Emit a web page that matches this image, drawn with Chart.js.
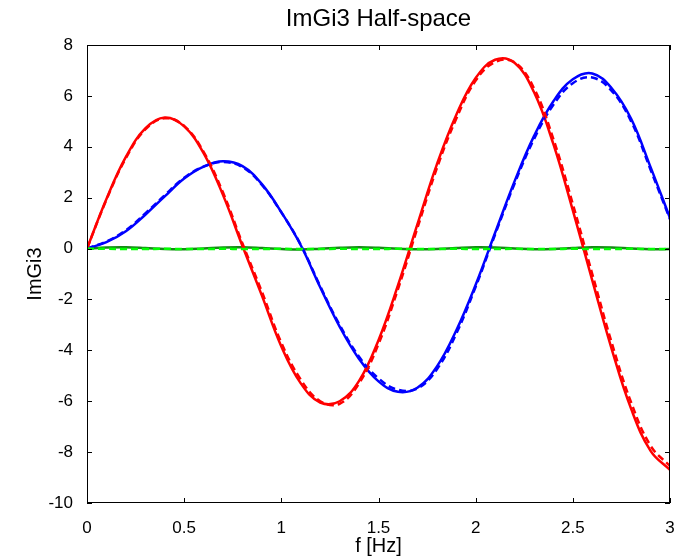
<!DOCTYPE html>
<html>
<head>
<meta charset="utf-8">
<title>ImGi3 Half-space</title>
<script src="https://cdn.jsdelivr.net/npm/chart.js@4.4.1/dist/chart.umd.min.js"></script>
<style>
  html, body { margin: 0; padding: 0; background: #fff; }
  #chart { display: block; }
</style>
</head>
<body>
<canvas id="chart" width="687" height="558"></canvas>
<script>
// === Données ===
const freqs = [0, 0.1, 0.2, 0.3, 0.4, 0.5, 0.6, 0.7, 0.8, 0.9, 1.0,
               1.1, 1.2, 1.3, 1.4, 1.5, 1.6, 1.7, 1.8, 1.9, 2.0,
               2.1, 2.2, 2.3, 2.4, 2.5, 2.6, 2.7, 2.8, 2.9, 3.0];

const redSolid = [0, 1.95, 3.6, 4.72, 5.15, 4.8, 3.75, 2.1, 0.1, -1.85, -3.85,
                  -5.3, -6.05, -6.0, -5.2, -3.6, -1.45, 0.95, 3.3, 5.25, 6.7,
                  7.42, 7.3, 6.15, 4.1, 1.5, -1.25, -3.95, -6.3, -7.95, -8.7];
const redDashed = [0, 1.92, 3.55, 4.68, 5.12, 4.82, 3.8, 2.2, 0.2, -1.7, -3.7,
                   -5.15, -6.0, -6.1, -5.3, -3.75, -1.6, 0.8, 3.15, 5.1, 6.6,
                   7.33, 7.32, 6.3, 4.3, 1.75, -1.0, -3.7, -6.05, -7.75, -8.55];

const blueSolid = [0, 0.25, 0.68, 1.33, 2.05, 2.75, 3.22, 3.43, 3.24, 2.53, 1.43,
                   0.13, -1.52, -3.07, -4.34, -5.22, -5.63, -5.47, -4.64, -3.22, -1.42,
                   0.62, 2.64, 4.42, 5.79, 6.65, 6.88, 6.3, 5.1, 3.2, 1.2];
const blueDashed = [0, 0.28, 0.72, 1.38, 2.1, 2.78, 3.22, 3.4, 3.2, 2.5, 1.42,
                    0.15, -1.48, -3.0, -4.25, -5.1, -5.55, -5.5, -4.75, -3.35, -1.5,
                    0.55, 2.55, 4.3, 5.65, 6.5, 6.72, 6.2, 5.0, 3.1, 1.15];

const greenSolid = [0, 0.04, 0.05, 0.02, -0.02, -0.03, 0, 0.04, 0.05, 0.02, -0.02,
                    -0.04, -0.01, 0.03, 0.05, 0.03, -0.01, -0.03, -0.02, 0.02, 0.05,
                    0.04, 0, -0.03, -0.02, 0.02, 0.05, 0.04, 0, -0.03, -0.02];
const greenDashed = [0, -0.01, -0.02, -0.02, -0.01, -0.02, -0.02, -0.01, -0.02, -0.02, -0.01,
                     -0.02, -0.02, -0.01, -0.02, -0.02, -0.01, -0.02, -0.02, -0.01, -0.02,
                     -0.02, -0.01, -0.02, -0.02, -0.01, -0.02, -0.02, -0.01, -0.02, -0.02];

const xTicks = [0, 0.5, 1, 1.5, 2, 2.5, 3];
const yTicks = [-10, -8, -6, -4, -2, 0, 2, 4, 6, 8];

const titleText = 'ImGi3 Half-space';
const xLabel = 'f [Hz]';
const yLabel = 'ImGi3';

const FONT = "'Liberation Sans', Arial, sans-serif";

function toPoints(values) {
    return freqs.map((f, i) => ({ x: f, y: values[i] }));
}

function series(values, color, dashed, order) {
    return {
        data: toPoints(values),
        borderColor: color,
        borderWidth: 2.5,
        borderDash: dashed ? [7, 4] : [],
        pointRadius: 0,
        fill: false,
        tension: 0.4,
        order: order
    };
}

/**
 * Cadre façon MATLAB : boîte complète, graduations vers l'intérieur, titre centré.
 */
const matlabFrame = {
    id: 'matlabFrame',
    afterDraw(chart) {
        const { ctx, chartArea: a, scales: { x, y } } = chart;
        ctx.save();
        ctx.strokeStyle = '#000';
        ctx.lineWidth = 1;
        ctx.strokeRect(Math.round(a.left) + 0.5, Math.round(a.top) + 0.5,
                       Math.round(a.width) - 1, Math.round(a.height) - 1);
        const len = 5;
        ctx.beginPath();
        xTicks.forEach(v => {
            const px = Math.round(x.getPixelForValue(v)) + 0.5;
            ctx.moveTo(px, a.bottom); ctx.lineTo(px, a.bottom - len);
            ctx.moveTo(px, a.top); ctx.lineTo(px, a.top + len);
        });
        yTicks.forEach(v => {
            const py = Math.round(y.getPixelForValue(v)) + 0.5;
            ctx.moveTo(a.left, py); ctx.lineTo(a.left + len, py);
            ctx.moveTo(a.right, py); ctx.lineTo(a.right - len, py);
        });
        ctx.stroke();

        ctx.fillStyle = '#000';
        ctx.font = '24px ' + FONT;
        ctx.textAlign = 'center';
        ctx.textBaseline = 'middle';
        ctx.fillText(titleText, (a.left + a.right) / 2, 19);
        ctx.restore();
    }
};

new Chart(document.getElementById('chart'), {
    type: 'line',
    data: {
        datasets: [
            series(redSolid, '#ff0000', false, 4),
            series(redDashed, '#ff0000', true, 1),
            series(blueSolid, '#0000ff', false, 5),
            series(blueDashed, '#0000ff', true, 2),
            series(greenSolid, '#168a16', false, 6),
            series(greenDashed, '#00ff00', true, 0)
        ]
    },
    options: {
        responsive: false,
        animation: false,
        layout: { padding: { top: 45, right: 17, left: 0, bottom: 0 } },
        plugins: {
            legend: { display: false },
            tooltip: { enabled: false },
            title: { display: false }
        },
        scales: {
            x: {
                type: 'linear',
                min: 0,
                max: 3,
                afterBuildTicks: s => { s.ticks = xTicks.map(v => ({ value: v })); },
                afterFit: s => { s.height = 55; },
                grid: { display: false },
                border: { display: false },
                ticks: { color: '#000', padding: 7, maxRotation: 0, callback: v => String(v),
                         font: { family: FONT, size: 17 } },
                title: { display: true, text: xLabel, color: '#000', padding: { top: 1, bottom: 0 },
                         font: { family: FONT, size: 20 } }
            },
            y: {
                type: 'linear',
                min: -10,
                max: 8,
                afterBuildTicks: s => { s.ticks = yTicks.map(v => ({ value: v })); },
                afterFit: s => { s.width = 87; },
                grid: { display: false },
                border: { display: false },
                ticks: { color: '#000', padding: 6, callback: v => String(v),
                         font: { family: FONT, size: 17 } },
                title: { display: true, text: yLabel, color: '#000', padding: { top: 23, bottom: 0 },
                         font: { family: FONT, size: 20 } }
            }
        }
    },
    plugins: [matlabFrame]
});
</script>
</body>
</html>
